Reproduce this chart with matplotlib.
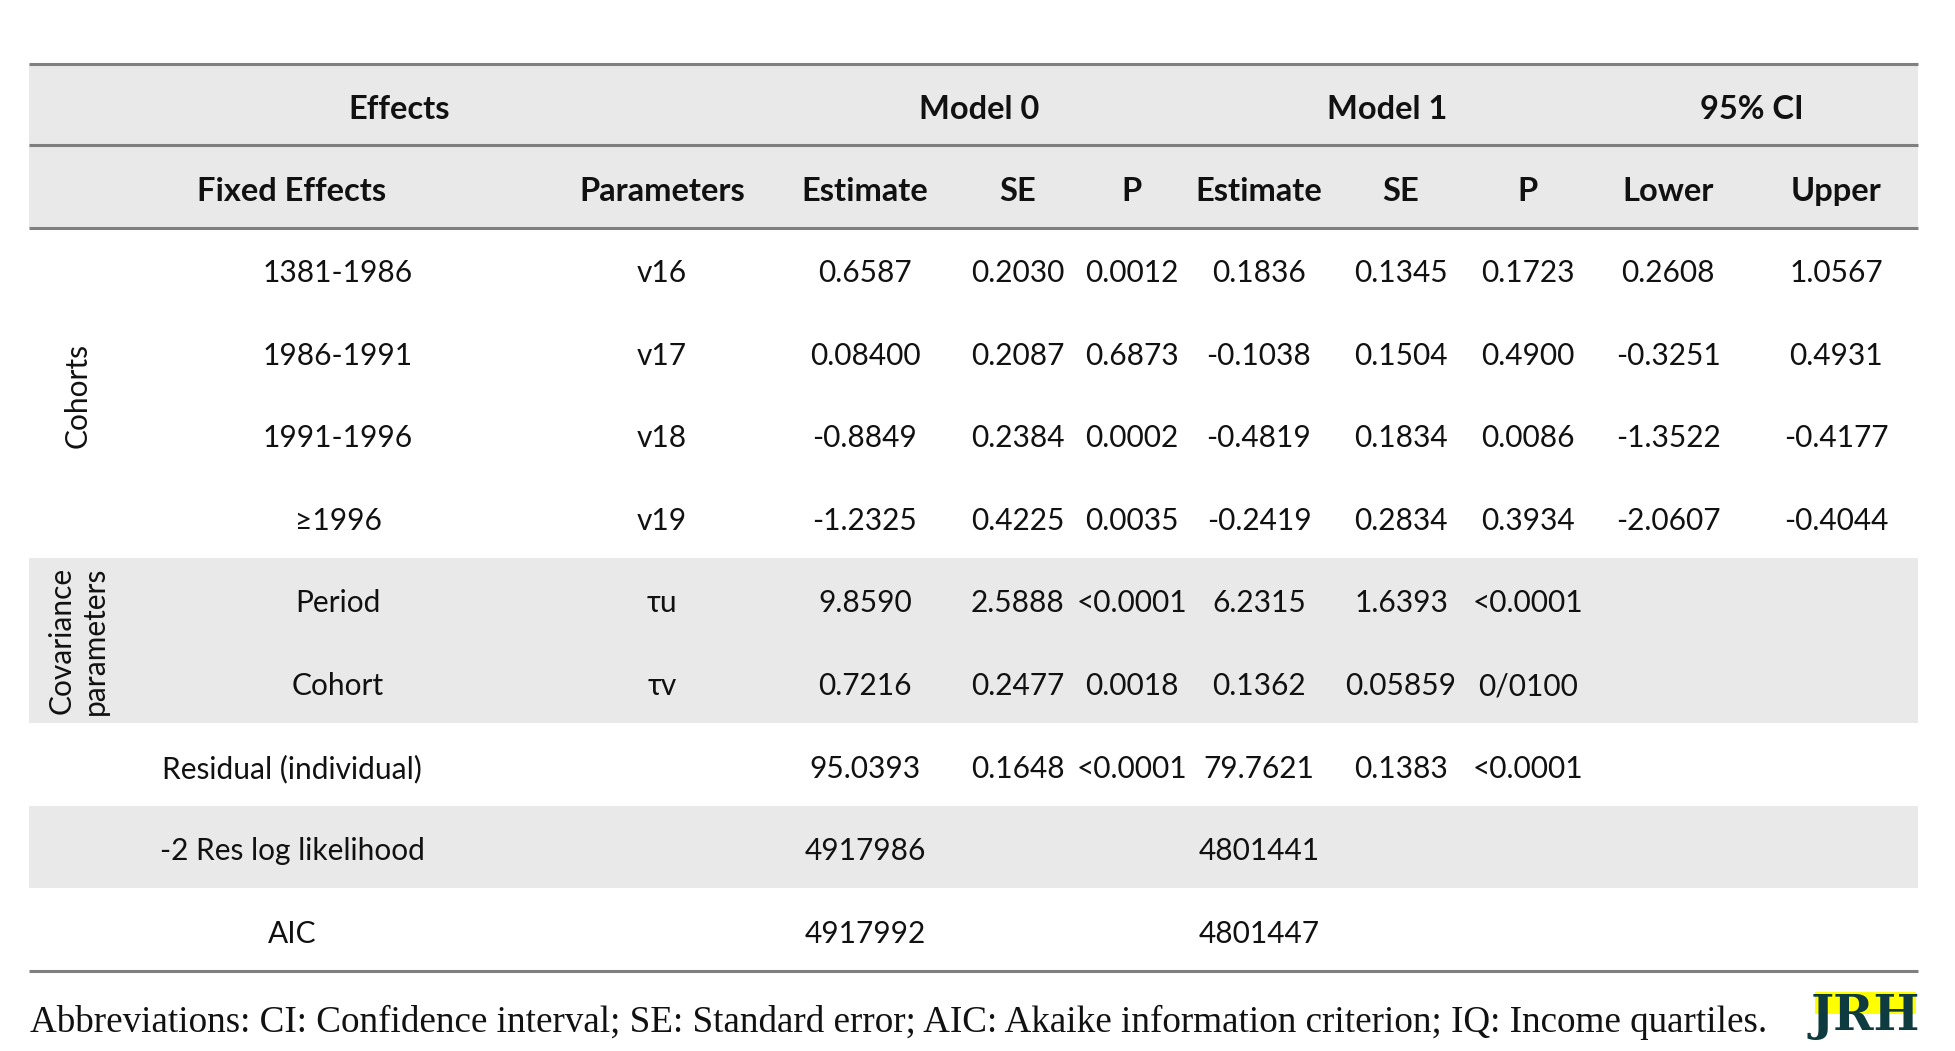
import matplotlib
matplotlib.use("Agg")
import matplotlib.pyplot as plt
from matplotlib.patches import Rectangle

# ---------------- data ----------------
group_headers = ["Effects", "Model 0", "Model 1", "95% CI"]
col_headers = ["Fixed Effects", "Parameters", "Estimate", "SE", "P",
               "Estimate", "SE", "P", "Lower", "Upper"]
row_labels = ["1381-1986", "1986-1991", "1991-1996", "≥1996", "Period", "Cohort",
              "Residual (individual)", "-2 Res log likelihood", "AIC"]
parameters = ["v16", "v17", "v18", "v19", "τu", "τv", "", "", ""]
m0_est = ["0.6587", "0.08400", "-0.8849", "-1.2325", "9.8590", "0.7216", "95.0393", "4917986", "4917992"]
m0_se = ["0.2030", "0.2087", "0.2384", "0.4225", "2.5888", "0.2477", "0.1648", "", ""]
m0_p = ["0.0012", "0.6873", "0.0002", "0.0035", "<0.0001", "0.0018", "<0.0001", "", ""]
m1_est = ["0.1836", "-0.1038", "-0.4819", "-0.2419", "6.2315", "0.1362", "79.7621", "4801441", "4801447"]
m1_se = ["0.1345", "0.1504", "0.1834", "0.2834", "1.6393", "0.05859", "0.1383", "", ""]
m1_p = ["0.1723", "0.4900", "0.0086", "0.3934", "<0.0001", "0/0100", "<0.0001", "", ""]
ci_lower = ["0.2608", "-0.3251", "-1.3522", "-2.0607", "", "", "", "", ""]
ci_upper = ["1.0567", "0.4931", "-0.4177", "-0.4044", "", "", "", "", ""]
group_labels = ["Cohorts", "Covariance\nparameters"]
footnote = ("Abbreviations: CI: Confidence interval; SE: Standard error; "
            "AIC: Akaike information criterion; IQ: Income quartiles.")
logo_text = "JRH"

# ---------------- layout ----------------
W, H = 1956, 1051
fig = plt.figure(figsize=(W / 100, H / 100), dpi=100)
ax = fig.add_axes([0, 0, 1, 1])
ax.set_xlim(0, W)
ax.set_ylim(H, 0)
ax.axis("off")

SANS = ["Lato", "DejaVu Sans"]
FS = 21.5
FSH = 23.5
GRAY = "#e9e9e9"
LINE = "#808080"
TXT = "#111111"

x_left, x_right = 29, 1918
y_top, y_h1, y_h2 = 64, 145, 228
row_h = (971 - 228) / 9.0
y_bottom = y_h2 + 9 * row_h

def row_y(i):
    return y_h2 + row_h * (i + 0.5)

# background bands
for (y0, y1) in [(y_top, y_h2), (y_h2 + 4 * row_h, y_h2 + 6 * row_h), (y_h2 + 7 * row_h, y_h2 + 8 * row_h)]:
    ax.add_patch(Rectangle((x_left, y0), x_right - x_left, y1 - y0, facecolor=GRAY, edgecolor="none", zorder=0))

for y in [y_top, y_h1, y_h2, y_bottom]:
    ax.plot([x_left, x_right], [y, y], color=LINE, lw=2.2, solid_capstyle="butt", zorder=2)

# header rows
group_x = [399, 979, 1387, 1752]
for lab, x in zip(group_headers, group_x):
    ax.text(x, (y_top + y_h1) / 2 + 5, lab, ha="center", va="center", fontsize=FSH,
            fontweight="bold", family=SANS, color=TXT)

col_x = [292, 662, 865, 1018, 1132, 1259, 1401, 1528, 1668, 1836]
for lab, x in zip(col_headers, col_x):
    ax.text(x, (y_h1 + y_h2) / 2 + 5, lab, ha="center", va="center", fontsize=FSH,
            fontweight="bold", family=SANS, color=TXT)

# body
columns = [parameters, m0_est, m0_se, m0_p, m1_est, m1_se, m1_p, ci_lower, ci_upper]
for i, lab in enumerate(row_labels):
    y = row_y(i) + 4
    lx = 338 if i < 6 else 292
    ax.text(lx, y, lab, ha="center", va="center", fontsize=FS, family=SANS, color=TXT)
    for col, x in zip(columns, col_x[1:]):
        if col[i]:
            ax.text(x, y, col[i], ha="center", va="center", fontsize=FS, family=SANS, color=TXT)

# vertical group labels
ax.text(78, (y_h2 + y_h2 + 4 * row_h) / 2 + 2, group_labels[0], rotation=90, ha="center", va="center",
        fontsize=FS, family=SANS, color=TXT)
ax.text(78, y_h2 + 5 * row_h, group_labels[1], rotation=90, ha="center", va="center",
        fontsize=FS, family=SANS, color=TXT, linespacing=1.25, multialignment="center")

# footnote
ax.text(30, 1022, footnote, ha="left", va="center", fontsize=26.7,
        family=["Liberation Serif", "DejaVu Serif"], color=TXT)

# logo
ax.add_patch(Rectangle((1815, 992), 101, 22, facecolor="#ffff00", edgecolor="none", zorder=1))
ax.text(1865, 1030, logo_text, ha="center", va="baseline", fontsize=35, fontweight="bold",
        family=["DejaVu Serif", "Liberation Serif"], color="#0e3b40", zorder=2)

fig.savefig("out.png", dpi=100, facecolor="white")
